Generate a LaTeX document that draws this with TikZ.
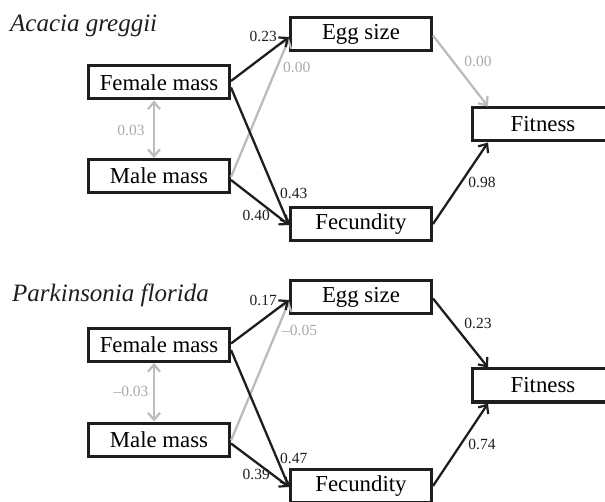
\documentclass[tikz,border=0pt]{standalone}
\usepackage{fontspec}
\setmainfont{Liberation Serif}
\usetikzlibrary{arrows.meta}
\definecolor{lgray}{RGB}{188,188,188}
\definecolor{tgray}{RGB}{170,170,170}
\definecolor{dk}{RGB}{30,30,30}
\tikzset{
  box/.style={draw=dk, line width=3pt, minimum width=141pt, minimum height=33pt,
    inner sep=0pt, font=\fontsize{22.8}{26}\selectfont},
  tip/.style={Straight Barb[length=7pt,width=12pt,line width=2.2pt]},
  blk/.style={draw=dk, line width=2.3pt, -{Straight Barb[length=7pt,width=12pt,line width=2.2pt]}},
  gry/.style={draw=lgray, line width=2.3pt, -{Straight Barb[length=7pt,width=12pt,line width=2.2pt]}},
  gry2/.style={draw=lgray, line width=2.3pt, {Straight Barb[length=7pt,width=12pt,line width=2.2pt]}-{Straight Barb[length=7pt,width=12pt,line width=2.2pt]}},
  lab/.style={inner sep=0pt, font=\fontsize{15.5}{18}\selectfont, text=dk},
  glab/.style={inner sep=0pt, font=\fontsize{15.5}{18}\selectfont, text=tgray},
  ttl/.style={inner sep=0pt, font=\fontsize{25}{29}\selectfont\itshape, text=dk}
}
\begin{document}
\begin{tikzpicture}[x=1pt,y=-1pt]
\useasboundingbox (0,0) rectangle (605,502);
\clip (0,0) rectangle (605,502);
% ---------- top panel ----------
\node[ttl, anchor=base west] (t1) at (10,32) {Acacia greggii};
\node[box] (fa1) at (159,82.5) {Female mass};
\node[box] (ma1) at (159,176) {Male mass};
\node[box] (eg1) at (361,34.5) {Egg size};
\node[box] (fe1) at (361,224) {Fecundity};
\node[box] (fi1) at (543,124.5) {Fitness};
\draw[gry2] ([xshift=-5pt]fa1.south) -- ([xshift=-5pt]ma1.north);
\draw[gry] ([yshift=-1pt]ma1.east) -- ([yshift=-4pt]eg1.west);
\draw[blk] ([yshift=1.5pt]fa1.east) -- ([yshift=-2.5pt]eg1.west);
\draw[blk] ([yshift=-5pt]fa1.east) -- ([yshift=-1pt]fe1.west);
\draw[blk] ([yshift=-4pt]ma1.east) -- ([yshift=-1pt]fe1.west);
\draw[gry] ([yshift=-1pt]eg1.east) -- ([xshift=17pt]fi1.north west);
\draw[blk] (fe1.east) -- ([xshift=17pt]fi1.south west);
\node[lab, anchor=east] (l1a) at (277,36) {0.23};
\node[glab, anchor=west] (l1b) at (283,67) {0.00};
\node[lab, anchor=west] (l1c) at (280,193) {0.43};
\node[lab, anchor=east] (l1d) at (270,215) {0.40};
\node[glab] (l1e) at (131,130) {0.03};
\node[glab] (l1f) at (478,61) {0.00};
\node[lab] (l1g) at (482,182) {0.98};
% ---------- bottom panel ----------
\node[ttl, anchor=base west] (t2) at (12,302) {Parkinsonia florida};
\node[box] (fa2) at (159,345) {Female mass};
\node[box] (ma2) at (159,439.5) {Male mass};
\node[box] (eg2) at (361,297.5) {Egg size};
\node[box] (fe2) at (361,486) {Fecundity};
\node[box] (fi2) at (543,385.5) {Fitness};
\draw[gry2] ([xshift=-5pt]fa2.south) -- ([xshift=-5pt]ma2.north);
\draw[gry] ([yshift=-1pt]ma2.east) -- ([yshift=-4pt]eg2.west);
\draw[blk] ([yshift=1.5pt]fa2.east) -- ([yshift=-2.5pt]eg2.west);
\draw[blk] ([yshift=-5pt]fa2.east) -- ([yshift=-1pt]fe2.west);
\draw[blk] ([yshift=-4pt]ma2.east) -- ([yshift=-1pt]fe2.west);
\draw[blk] ([yshift=-1pt]eg2.east) -- ([xshift=17pt]fi2.north west);
\draw[blk] (fe2.east) -- ([xshift=17pt]fi2.south west);
\node[lab, anchor=east] (l2a) at (277,300) {0.17};
\node[glab, anchor=west] (l2b) at (282,330) {–0.05};
\node[lab, anchor=west] (l2c) at (280,458) {0.47};
\node[lab, anchor=east] (l2d) at (270,474) {0.39};
\node[glab] (l2e) at (131,391) {–0.03};
\node[lab] (l2f) at (478,323) {0.23};
\node[lab] (l2g) at (482,444) {0.74};
\end{tikzpicture}
\end{document}
